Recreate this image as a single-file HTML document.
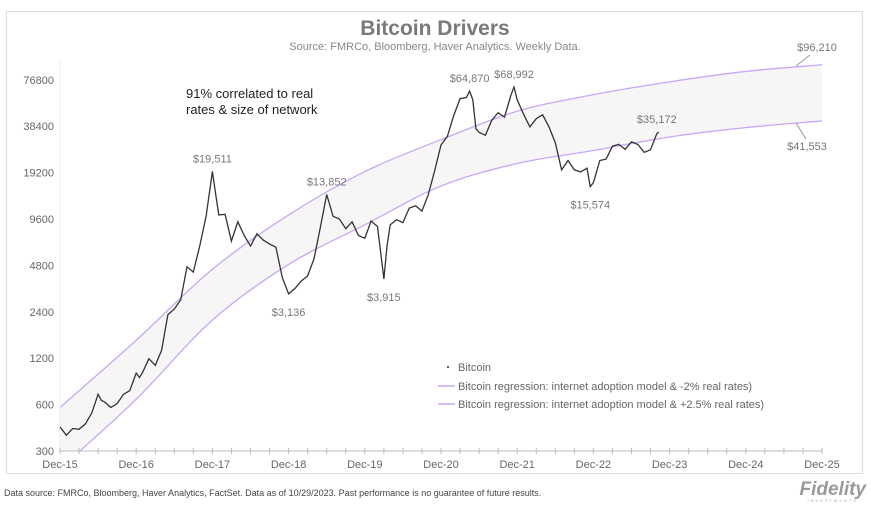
<!DOCTYPE html>
<html><head><meta charset="utf-8"><style>
html,body{margin:0;padding:0;background:#fff;}
body{width:871px;height:504px;overflow:hidden;font-family:"Liberation Sans",sans-serif;}
</style></head><body>
<svg id="chart" width="871" height="504" viewBox="0 0 871 504" xmlns="http://www.w3.org/2000/svg" font-family="Liberation Sans, sans-serif">
<rect x="6.5" y="11.5" width="856" height="462" fill="#fff" stroke="#ddd"/>
<text x="435" y="35" text-anchor="middle" font-size="21" font-weight="bold" fill="#7a7a7a">Bitcoin Drivers</text>
<text x="435" y="50" text-anchor="middle" font-size="11" fill="#888">Source: FMRCo, Bloomberg, Haver Analytics. Weekly Data.</text>
<defs><clipPath id="plotclip"><rect x="58" y="55" width="770" height="396"/></clipPath></defs>
<g id="band" clip-path="url(#plotclip)"></g>
<g id="axes"></g>
<g id="series" clip-path="url(#plotclip)"></g>
<g id="annots"></g>
<text x="186" y="98" font-size="13" fill="#222">91% correlated to real</text>
<text x="186" y="114" font-size="13" fill="#222">rates &amp; size of network</text>
<g>
<circle cx="448" cy="367" r="1" fill="#333"/>
<text x="458" y="371" font-size="11" fill="#666">Bitcoin</text>
<line x1="438" y1="386" x2="455" y2="386" stroke="#c9a6f5" stroke-width="1.5"/>
<text x="458" y="390" font-size="11" fill="#666">Bitcoin regression: internet adoption model &amp; -2% real rates)</text>
<line x1="438" y1="404" x2="455" y2="404" stroke="#c9a6f5" stroke-width="1.5"/>
<text x="458" y="408" font-size="11" fill="#666">Bitcoin regression: internet adoption model &amp; +2.5% real rates)</text>
</g>
<text x="4" y="496" font-size="9" fill="#444">Data source: FMRCo, Bloomberg, Haver Analytics, FactSet. Data as of 10/29/2023. Past performance is no guarantee of future results.</text>
<text x="866" y="495" text-anchor="end" font-size="19" font-weight="bold" font-style="italic" fill="#9a9a9a">Fidelity</text>
<text x="858" y="502" text-anchor="end" font-size="4" fill="#aaa" letter-spacing="2">INVESTMENTS</text>
</svg>
<script>
const yTicks=[300,600,1200,2400,4800,9600,19200,38400,76800];
const xLabels=["Dec-15","Dec-16","Dec-17","Dec-18","Dec-19","Dec-20","Dec-21","Dec-22","Dec-23","Dec-24","Dec-25"];
const bandYears=[0,1,2,3,4,5,6,7,8,9,10];
const upperBand=[575,1570,4530,10200,19500,31400,48000,61500,74500,87000,96210];
const lowerBand=[230,650,2120,4870,8800,15700,22000,26700,32700,37600,41553];
const btcMonths=[0,1,2,3,4,5,6,6.5,7,8,9,10,11,12,12.5,13,14,15,16,17,18,19,20,21,22,23,24,24.5,25,26,27,28,29,30,31,32,33,34,35,36,37,38,39,40,41,42,43,44,45,46,47,48,49,50,51,51.5,52,53,54,55,56,57,58,59,60,61,62,63,64,64.5,65,65.5,66,67,68,69,70,71,71.5,72,73,74,75,76,77,78,79,80,81,82,83,83.5,84,85,86,87,88,89,90,91,92,93,94,94.3];
const btcPrices=[430,380,420,415,450,530,700,640,625,575,610,700,740,960,900,970,1190,1080,1350,2300,2500,2870,4700,4340,6400,10000,19511,14000,10200,10300,6900,9200,7500,6400,7700,7000,6600,6300,4000,3136,3400,3800,4100,5300,8500,13852,10000,9600,8300,9200,7500,7200,9300,8600,3915,6400,8800,9500,9100,11300,11700,10800,13800,19700,29000,33000,45000,58000,59000,64870,57000,37000,35000,33500,42000,47000,44000,61000,68992,57000,46000,38000,43000,45500,38000,30000,20000,23000,20000,19400,20500,15574,16500,23000,23500,28500,29300,27200,30400,29200,26000,27000,34500,35172];
const annLabels=["$19,511","$13,852","$3,136","$3,915","$64,870","$68,992","$15,574","$35,172"];
const annMonths=[24,42,36,51,64.5,71.5,83.5,94.3];
const annValues=[19511,13852,3136,3915,64870,68992,15574,35172];

const X0=60,X1=822,YB=451,PX_PER_DBL=46.4;
const NS="http://www.w3.org/2000/svg";
function xYear(y){return X0+(X1-X0)*y/10;}
function xMonth(m){return xYear(m/12);}
function yVal(v){return YB-PX_PER_DBL*Math.log2(v/300);}
function mk(tag,attrs,parent){const e=document.createElementNS(NS,tag);for(const k in attrs)e.setAttribute(k,attrs[k]);parent.appendChild(e);return e;}
function smooth(pts){let d="M"+pts[0][0]+","+pts[0][1];for(let i=0;i<pts.length-1;i++){const p0=pts[Math.max(0,i-1)],p1=pts[i],p2=pts[i+1],p3=pts[Math.min(pts.length-1,i+2)];const c1=[p1[0]+(p2[0]-p0[0])/6,p1[1]+(p2[1]-p0[1])/6],c2=[p2[0]-(p3[0]-p1[0])/6,p2[1]-(p3[1]-p1[1])/6];d+=" C"+c1+" "+c2+" "+p2;}return d;}

const axes=document.getElementById('axes');
yTicks.forEach(v=>{const t=mk('text',{x:54,y:yVal(v)+4,'text-anchor':'end','font-size':11,fill:'#666'},axes);t.textContent=v;

});
const ax=mk('line',{x1:X0,y1:YB,x2:X1,y2:YB,stroke:'#bbb'},axes);


const yax=mk('line',{x1:X0,y1:60,x2:X0,y2:YB,stroke:'#eee'},axes);


for(let m=0;m<=120;m+=3){const tk=mk('line',{x1:xMonth(m),y1:YB-3,x2:xMonth(m),y2:YB+3,stroke:'#bbb'},axes);

}
xLabels.forEach((l,i)=>{const t=mk('text',{x:xYear(i),y:468,'text-anchor':'middle','font-size':11,fill:'#666'},axes);t.textContent=l;

});

const band=document.getElementById('band');
const up=bandYears.map((y,i)=>[xYear(y),yVal(upperBand[i])]);
const lo=bandYears.map((y,i)=>[xYear(y),yVal(lowerBand[i])]);
const loRev=lo.slice().reverse();
const fillD=smooth(up)+" L"+loRev[0]+smooth(loRev).slice(1).replace(/^[^C]*/,"")+" Z";
const fp=mk('path',{d:fillD,fill:'#f6f6f6',stroke:'none'},band);


const uL=mk('path',{d:smooth(up),fill:'none',stroke:'#c9a6f5','stroke-width':1.3},band);


const lL=mk('path',{d:smooth(lo),fill:'none',stroke:'#c9a6f5','stroke-width':1.3},band);



const series=document.getElementById('series');
const pts=btcMonths.map((m,i)=>xMonth(m).toFixed(1)+","+yVal(btcPrices[i]).toFixed(1)).join(" ");
const pl=mk('polyline',{points:pts,fill:'none',stroke:'#333','stroke-width':1.3,'stroke-linejoin':'miter'},series);



const ann=document.getElementById('annots');
annLabels.forEach((l,i)=>{const x=xMonth(annMonths[i]);const y=yVal(annValues[i]);const below=(l==="$3,136"||l==="$3,915"||l==="$15,574");
const t=mk('text',{x:x+(l==="$35,172"?-2:0),y:below?y+22:y-9,'text-anchor':'middle','font-size':11,fill:'#777'},ann);t.textContent=l;

});
const e1=mk('text',{x:817,y:51,'text-anchor':'middle','font-size':11,fill:'#777'},ann);e1.textContent="$96,210";


const e1l=mk('line',{x1:810,y1:55,x2:796,y2:66,stroke:'#999'},ann);


const e2=mk('text',{x:807,y:150,'text-anchor':'middle','font-size':11,fill:'#777'},ann);e2.textContent="$41,553";


const e2l=mk('line',{x1:806,y1:139,x2:796,y2:123,stroke:'#999'},ann);


</script>
</body></html>
